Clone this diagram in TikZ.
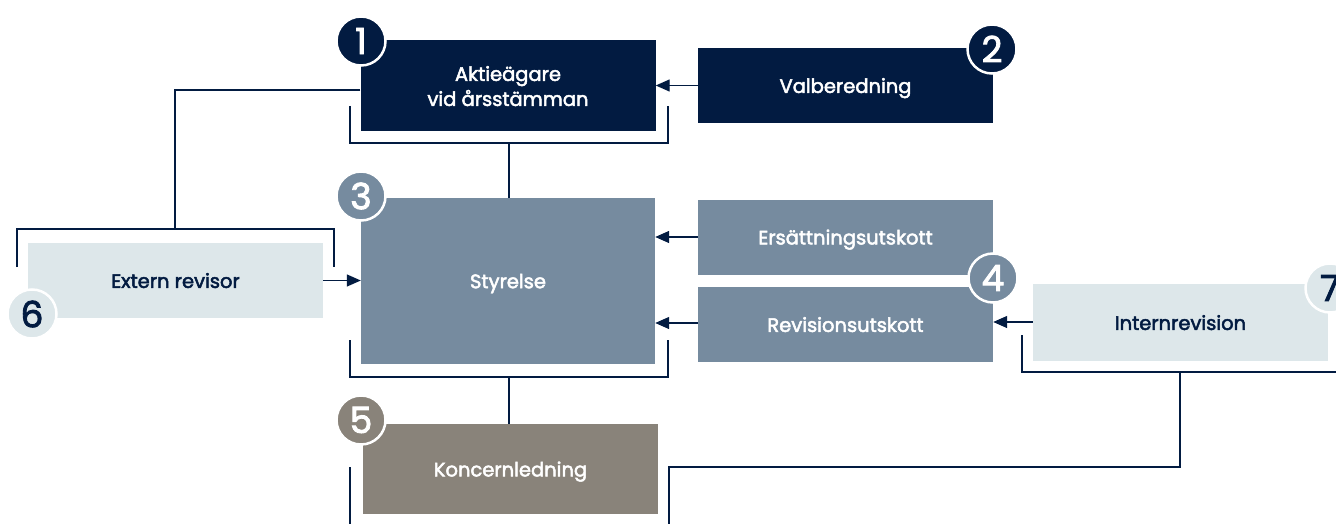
\documentclass[tikz,border=0pt]{standalone}
\usepackage{fontspec}
\setmainfont{Poppins}
\newfontfamily\lblfont{Poppins}[FakeBold=2.5]
\usetikzlibrary{arrows.meta}
\definecolor{navy}{HTML}{021B41}
\definecolor{steel}{HTML}{768B9F}
\definecolor{mist}{HTML}{DDE7EA}
\definecolor{taupe}{HTML}{89837A}
\tikzset{
  unit/.style={minimum width=295pt, minimum height=75pt, inner sep=0pt,
    text depth=0pt, align=center, font=\lblfont\fontsize{19.5}{25}\selectfont},
  badge/.style={circle, draw=white, line width=2.5pt, minimum size=49pt,
    inner sep=0pt, font=\lblfont\fontsize{36}{36}\selectfont},
  link/.style={draw=navy, line width=1.3pt},
  flow/.style={link, -{Triangle[length=14pt,width=12pt]}}
}
\begin{document}
\begin{tikzpicture}[x=1pt,y=-1pt]
  \useasboundingbox (0,0) rectangle (1336,524);

  % boxes
  \node[unit, fill=navy, text=white, minimum height=91pt] (agm) at (508,86) {Aktieägare\\vid årsstämman};
  \node[unit, fill=navy, text=white] (nomc) at (845.5,85.5) {Valberedning};
  \node[unit, fill=steel, text=white, minimum width=294pt, minimum height=166pt] (board) at (508,281) {Styrelse};
  \node[unit, fill=steel, text=white] (remc) at (845.5,237) {Ersättningsutskott};
  \node[unit, fill=steel, text=white] (audc) at (845.5,324.5) {Revisionsutskott};
  \node[unit, fill=taupe, text=white, minimum height=90pt] (mgmt) at (510.5,469) {Koncernledning};
  \node[unit, fill=mist, text=navy] (ext) at (175.5,280.5) {Extern revisor};
  \node[unit, fill=mist, text=navy, minimum height=77pt] (intr) at (1180.5,322.5) {Internrevision};

  % brackets
  \coordinate (bA) at (509,143);
  \coordinate (bB) at (509,377);
  \coordinate (bE) at (175,229);
  \coordinate (bI) at (1180,372);
  \draw[link] (350,106) |- (668,143) -- (668,106);
  \draw[link] (350,340) |- (668,377) -- (668,340);
  \draw[link] (17,267) |- (334,229) -- (334,267);
  \draw[link] (1022,335) |- (1340,372);
  \draw[link] (350,467) -- (350,526);

  % connectors
  \draw[link] (bA) -- (board.north -| bA);
  \draw[link] (bB) -- (mgmt.north -| bB);
  \draw[link] (agm.west |- 0,90) -| (bE);
  \draw[link] (bI) |- (669,467) -- (669,526);
  \draw[flow] (nomc.west) -- (agm.east |- nomc.west);
  \draw[flow] (remc.west) -- (board.east |- remc.west);
  \draw[flow] (audc.west |- 0,323) -- (board.east |- 0,323);
  \draw[flow] (intr.west |- 0,322) -- (audc.east |- 0,322);
  \draw[flow] (ext.east) -- (board.west |- ext.east);

  % badges
  \foreach \n/\pos/\bg/\fg in {1/{361,41}/navy/white, 2/{992,49}/navy/white,
      3/{361,196}/steel/white, 4/{993,278}/steel/white, 5/{361,420}/taupe/white,
      6/{32,314}/mist/navy, 7/{1330,288}/mist/navy}
  {
    \node[badge, fill=\bg, text=\fg] (b\n) at (\pos) {\n};
  };
\end{tikzpicture}
\end{document}
